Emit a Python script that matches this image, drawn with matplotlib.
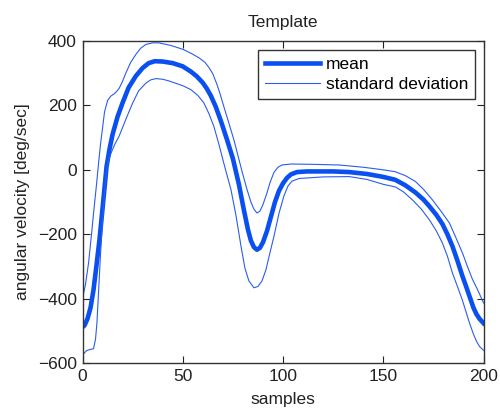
import matplotlib
matplotlib.use("Agg")
import matplotlib.pyplot as plt

plt.rcParams['font.family'] = ['Liberation Sans', 'DejaVu Sans']

# mean curve (sample, angular velocity)
mean_x = [0, 1, 2.5, 4, 5.5, 7, 8.5, 10, 11, 12, 13.5, 15, 17.5, 20, 23, 26.6, 30, 33, 36, 40,
          45, 50, 54, 57, 60, 62, 64, 66.5, 69, 72, 75, 78, 80.5, 82.5, 84, 85.5, 87, 88.5, 90,
          92, 94, 96, 98, 100, 102, 104, 107, 112, 125, 133, 142, 150, 156, 161, 166, 170,
          173, 176.5, 179.5, 182, 184.5, 187, 189.5, 191.5, 193, 195, 196.5, 198, 200]
mean_y = [-488, -483, -462, -428, -372, -295, -215, -120, -55, 10, 65, 110, 165, 208, 255, 291,
          316, 331, 337, 336, 331, 321, 305, 290, 270, 252, 230, 195, 152, 95, 35, -45, -125,
          -185, -220, -240, -248, -242, -225, -190, -145, -100, -65, -42, -25, -14, -7, -5, -5,
          -7, -13, -22, -31, -48, -70, -92, -113, -140, -168, -200, -237, -282, -330, -365,
          -392, -428, -448, -462, -476]

# upper standard deviation
upper_x = [0, 1.5, 3, 4.5, 5.5, 7, 8, 9, 10, 11, 12.5, 14, 15.8, 17, 18.3, 20, 21.6, 24, 26.6,
           29, 31.6, 35, 38, 44, 50, 54, 58, 61, 63, 65, 67, 68.5, 70.5, 73, 75.5, 77.5, 79.7,
           82, 84, 85.5, 87, 88.5, 90, 92, 93.5, 95.5, 97.5, 99.5, 104, 115, 128, 140, 150, 156,
           161, 166, 170, 174.5, 179, 183, 186, 189.5, 192, 194.5, 196.5, 198, 200]
upper_y = [-400, -355, -290, -200, -135, -45, 20, 80, 130, 180, 215, 228, 236, 243, 253, 275,
           300, 333, 358, 377, 389, 394, 394, 386, 374, 362, 348, 334, 318, 298, 266, 238, 196,
           145, 93, 45, -8, -60, -100, -122, -134, -128, -108, -72, -40, -8, 8, 15, 18, 17, 15,
           8, 0, -6, -18, -36, -60, -93, -130, -165, -207, -258, -300, -340, -365, -385, -413]

# lower standard deviation
lower_x = [0, 1, 2, 3.5, 5.5, 6.5, 7.2, 8, 9, 10, 11, 12, 13, 14, 16, 18.3, 21.5, 25, 28, 31.6,
           34, 36.6, 40, 43, 50, 54, 57.5, 60.5, 63, 65.5, 68, 70.5, 72, 74, 76.5, 79, 81, 83,
           85.5, 87.5, 89.5, 91.5, 93, 95.5, 98, 100.5, 102.5, 104.5, 108, 120, 133, 142, 150,
           156, 160, 164.5, 169, 173, 176.5, 179.5, 182, 184.5, 187, 189.5, 191.5, 193, 195,
           196.5, 198, 200]
lower_y = [-575, -568, -561, -558, -555, -525, -475, -380, -260, -160, -70, -5, 30, 48, 78,
           105, 155, 207, 245, 269, 279, 283, 281, 276, 261, 249, 231, 208, 175, 135, 80, 20,
           -15, -60, -140, -235, -305, -345, -366, -362, -345, -310, -270, -206, -135, -80, -50,
           -35, -27, -22, -21, -30, -45, -53, -68, -93, -122, -155, -190, -227, -268, -320,
           -362, -405, -445, -475, -510, -532, -548, -560]

blue = '#0a50f0'
thin_blue = '#2a5cf0'
fs = 12.5
txt = '#222222'

fig = plt.figure(figsize=(5.0, 4.09), dpi=100)
ax = fig.add_axes([0.165, 0.112, 0.802, 0.788])

ax.plot(mean_x, mean_y, color=blue, lw=3.3, label='mean')
ax.plot(upper_x, upper_y, color=thin_blue, lw=0.8, label='standard deviation')
ax.plot(lower_x, lower_y, color=thin_blue, lw=0.8)

ax.set_xlim(0, 200)
ax.set_ylim(-600, 400)
ax.set_xticks([0, 50, 100, 150, 200])
ax.set_yticks([-600, -400, -200, 0, 200, 400])
ax.set_yticklabels(['\u2212600', '\u2212400', '\u2212200', '0', '200', '400'])

ax.tick_params(direction='in', top=True, right=True, length=5, width=0.8,
               labelsize=fs, colors=txt, pad=4)
for s in ax.spines.values():
    s.set_color('#333333')
    s.set_linewidth(1.0)

ax.set_title('Template', fontsize=fs, color=txt, pad=10)
ax.set_xlabel('samples', fontsize=fs, color=txt, labelpad=6)
ax.set_ylabel('angular velocity [deg/sec]', fontsize=fs, color=txt, labelpad=6)

leg = ax.legend(loc='upper right', fontsize=fs, frameon=True, fancybox=False,
                edgecolor='#333333', framealpha=1, handlelength=3.2, handletextpad=0.3,
                borderpad=0.4, labelspacing=0.3, borderaxespad=0.5)
leg.get_frame().set_linewidth(1.0)

fig.savefig('out.png', dpi=100)
